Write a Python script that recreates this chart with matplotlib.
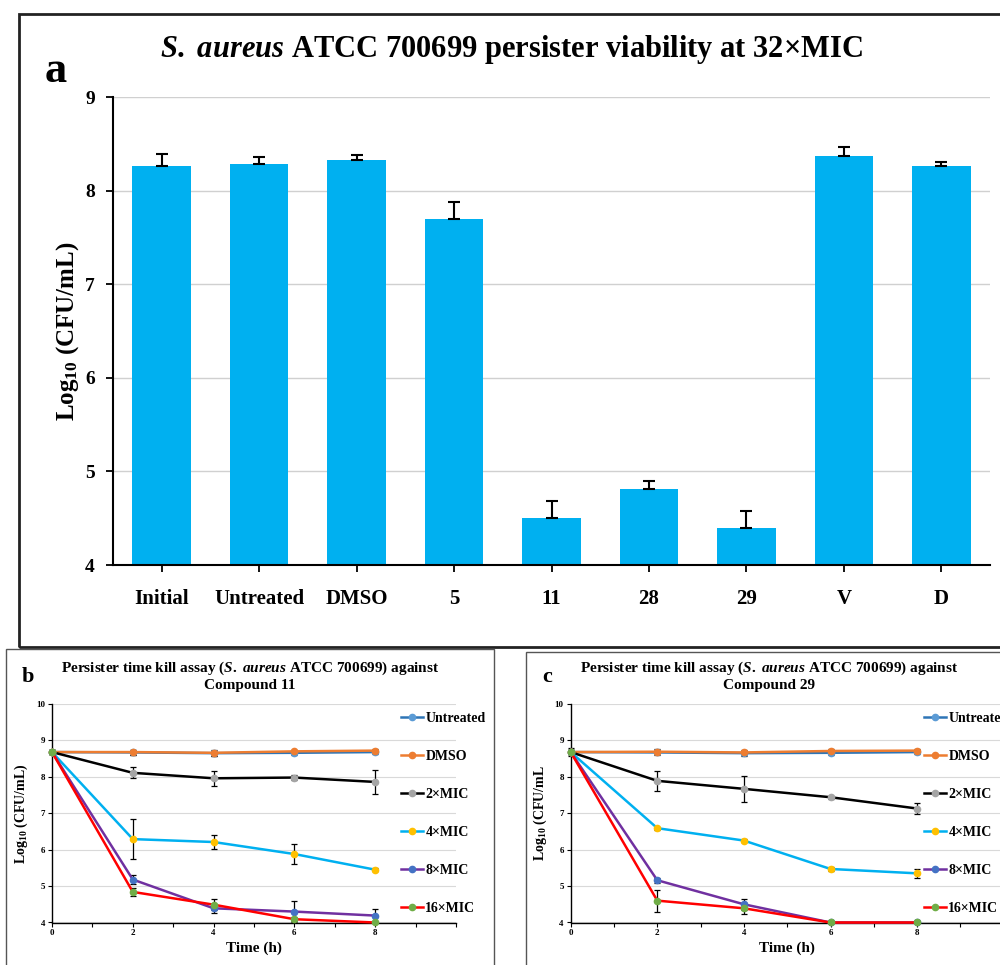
import matplotlib
matplotlib.use("Agg")
import matplotlib.pyplot as plt
from matplotlib.patches import Rectangle

plt.rcParams["font.family"] = ["Liberation Serif", "DejaVu Serif"]
plt.rcParams["font.weight"] = "bold"
plt.rcParams["axes.labelweight"] = "bold"
plt.rcParams["mathtext.fontset"] = "custom"
plt.rcParams["mathtext.rm"] = "Liberation Serif:bold"
plt.rcParams["mathtext.it"] = "Liberation Serif:italic:bold"

# ---- panel a: persister viability at 32xMIC ---------------------------------
bar_labels = ["Initial", "Untreated", "DMSO", "5", "11", "28", "29", "V", "D"]
bar_means = [8.26, 8.28, 8.33, 7.70, 4.50, 4.81, 4.39, 8.37, 8.26]
bar_err = [0.13, 0.08, 0.05, 0.18, 0.18, 0.09, 0.19, 0.10, 0.05]

# ---- panels b/c: time kill ---------------------------------------------------
time_h = [0, 2, 4, 6, 8]
series_names = ["Untreated", "DMSO", "2×MIC", "4×MIC", "8×MIC", "16×MIC"]
line_colors = ["#2E75B6", "#ED7D31", "#000000", "#00B0F0", "#7030A0", "#FF0000"]
marker_colors = ["#5B9BD5", "#ED7D31", "#A5A5A5", "#FFC000", "#4472C4", "#70AD47"]

b_means = [
    [8.68, 8.67, 8.65, 8.66, 8.68],
    [8.68, 8.68, 8.66, 8.70, 8.72],
    [8.68, 8.11, 7.96, 7.98, 7.86],
    [8.68, 6.29, 6.21, 5.88, 5.45],
    [8.68, 5.18, 4.39, 4.30, 4.19],
    [8.68, 4.84, 4.49, 4.09, 4.00],
]
b_err = [
    [0.05, 0.06, 0.07, 0.05, 0.04],
    [0.05, 0.07, 0.08, 0.05, 0.04],
    [0.05, 0.15, 0.20, 0.08, 0.34],
    [0.05, 0.56, 0.20, 0.27, 0.04],
    [0.05, 0.12, 0.12, 0.30, 0.17],
    [0.05, 0.10, 0.15, 0.06, 0.00],
]
c_means = [
    [8.68, 8.67, 8.65, 8.66, 8.68],
    [8.68, 8.69, 8.67, 8.71, 8.72],
    [8.68, 7.89, 7.67, 7.44, 7.13],
    [8.68, 6.59, 6.25, 5.47, 5.35],
    [8.68, 5.16, 4.50, 4.00, 4.00],
    [8.68, 4.60, 4.39, 4.00, 4.00],
]
c_err = [
    [0.05, 0.06, 0.07, 0.05, 0.04],
    [0.05, 0.07, 0.08, 0.05, 0.04],
    [0.10, 0.28, 0.35, 0.04, 0.15],
    [0.05, 0.04, 0.04, 0.06, 0.12],
    [0.05, 0.07, 0.15, 0.00, 0.00],
    [0.05, 0.30, 0.15, 0.00, 0.00],
]

W, H = 1000, 965
fig = plt.figure(figsize=(W / 100, H / 100), dpi=100)


def fx(px):
    return px / W


def fy(py):
    return 1 - py / H


# panel frames
fig.patches.append(Rectangle((fx(19), fy(647)), 1.0, (647 - 14) / H, transform=fig.transFigure,
                             fill=False, lw=2, ec="#222222"))
fig.patches.append(Rectangle((fx(6), fy(H + 10)), (494 - 6) / W, (H + 10 - 649) / H,
                             transform=fig.transFigure, fill=False, lw=1, ec="#555555"))
fig.patches.append(Rectangle((fx(526), fy(H + 10)), 1.0, (H + 10 - 652) / H,
                             transform=fig.transFigure, fill=False, lw=1, ec="#555555"))

# ---- panel a ----
ax = fig.add_axes([fx(113), fy(565), (990 - 113) / W, (565 - 97) / H])
x = list(range(len(bar_labels)))
ax.bar(x, bar_means, width=0.6, color="#00B0F0", zorder=2)
ax.errorbar(x, bar_means, yerr=[[0] * len(bar_err), bar_err], fmt="none",
            ecolor="black", elinewidth=1.5, capsize=4, capthick=1.5, zorder=3)
ax.set_xlim(-0.5, len(bar_labels) - 0.5)
ax.set_ylim(4, 9)
ax.set_yticks(range(4, 10))
ax.set_xticks(x)
ax.set_xticklabels(bar_labels)
ax.tick_params(axis="x", labelsize=15, direction="out", length=5, width=1.3, pad=12)
ax.tick_params(axis="y", labelsize=14, direction="out", length=5, width=1.3, pad=8)
ax.yaxis.grid(True, color="#D0D0D0", lw=1, zorder=0)
ax.set_axisbelow(True)
for s in ("top", "right"):
    ax.spines[s].set_visible(False)
for s in ("left", "bottom"):
    ax.spines[s].set_linewidth(1.5)
ax.set_ylabel(r"Log$_{\mathrm{10}}$ (CFU/mL)", fontsize=18, labelpad=3)
fig.text(fx(511), fy(49), r"$\mathit{S.}$ $\mathit{aureus}$ ATCC 700699 persister viability at 32×MIC",
         ha="center", va="center", fontsize=22)
fig.text(fx(45), fy(82), "a", fontsize=32, va="baseline")


# ---- panels b / c ----
def kill_panel(left_px, unit_px, means, errs, title, letter, letter_px, ylabel, leg_px):
    a = fig.add_axes([fx(left_px), fy(922.5), unit_px * 10 / W, (922.5 - 704) / H])
    for name, m, e, lc, mc in zip(series_names, means, errs, line_colors, marker_colors):
        a.errorbar(time_h, m, yerr=e, fmt="none", ecolor="black", elinewidth=0.9,
                   capsize=2, capthick=0.9, zorder=3, clip_on=False)
        a.plot(time_h, m, "-o", color=lc, lw=1.8, marker="o", ms=4.5, mfc=mc, mec=mc,
               label=name, zorder=4, clip_on=False)
    a.set_xlim(0, 10)
    a.set_ylim(4, 10)
    a.set_xticks(range(0, 11))
    a.set_xticklabels([str(t) if t % 2 == 0 and t < 10 else "" for t in range(0, 11)])
    a.set_yticks(range(4, 11))
    a.tick_params(labelsize=6.5, direction="out", length=3, width=0.8, pad=2)
    a.yaxis.grid(True, color="#D9D9D9", lw=0.8, zorder=0)
    a.set_axisbelow(True)
    for s in ("top", "right"):
        a.spines[s].set_visible(False)
    for s in ("left", "bottom"):
        a.spines[s].set_linewidth(1.0)
    a.set_xlabel("Time (h)", fontsize=11, labelpad=3)
    a.set_ylabel(ylabel, fontsize=10, labelpad=4)
    a.legend(loc="upper left", bbox_to_anchor=(fx(leg_px), fy(712)),
             bbox_transform=fig.transFigure, frameon=False,
             prop={"size": 10, "weight": "bold"},
             handlelength=1.6, handletextpad=0.15, labelspacing=1.8,
             borderpad=0, borderaxespad=0, numpoints=1)
    fig.text(fx(left_px + 198), fy(676), title,
             ha="center", va="center", fontsize=11, linespacing=1.25)
    fig.text(fx(letter_px), fy(682), letter, fontsize=16, va="baseline")
    return a


kill_panel(52, 40.4, b_means, b_err,
           "Persister time kill assay ($\\mathit{S.}$ $\\mathit{aureus}$ ATCC 700699) against\nCompound 11",
           "b", 22, r"Log$_{\mathrm{10}}$ (CFU/mL)", 401)
kill_panel(570.7, 43.3, c_means, c_err,
           "Persister time kill assay ($\\mathit{S.}$ $\\mathit{aureus}$ ATCC 700699) against\nCompound 29",
           "c", 542, r"Log$_{\mathrm{10}}$ (CFU/mL", 924)

fig.savefig("out.png", dpi=100)
